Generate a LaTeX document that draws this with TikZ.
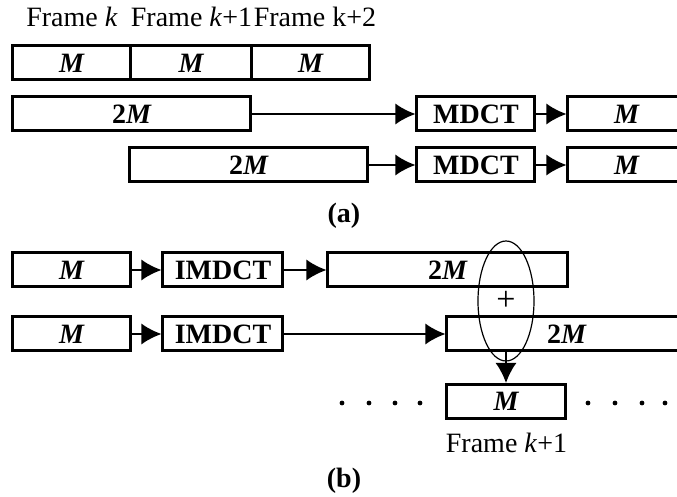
\documentclass[tikz,border=0pt]{standalone}
\usepackage{fontspec}
\setmainfont{Liberation Serif}
\usetikzlibrary{arrows.meta,positioning,shapes.geometric}
\definecolor{Ink}{HTML}{000000}
\newcommand{\labelsize}{\fontsize{14}{16}\selectfont}
\tikzset{blk/.style={rectangle,draw=Ink,line width=1.5pt,minimum height=17pt,inner sep=0pt,text=Ink,font=\labelsize\bfseries},flow/.style={draw=Ink,line width=1pt,-{Latex[length=10pt,width=10.5pt]}},sumring/.style={ellipse,draw=Ink,line width=0.6pt,minimum width=28pt,minimum height=60pt,inner sep=0pt,text=Ink,font=\fontsize{17}{19}\selectfont},tag/.style={text=Ink,inner sep=0pt}}
\begin{document}
\begin{tikzpicture}[x=0.5pt,y=-0.5pt,font=\labelsize]
\clip (0,0) rectangle (677,497);
% (a)
\node[blk,minimum width=59pt] (fk) at (72,63) {\textit{M}};
\node[blk,minimum width=60.5pt] (fk1) at (191.5,63) {\textit{M}};
\node[blk,minimum width=59pt] (fk2) at (311,63) {\textit{M}};
\node[tag] (tk) at (72,17) {Frame \textit{k}};
\node[tag] (tk1) at (191.5,17) {Frame \textit{k}+1};
\node[tag] (tk2) at (315,17) {Frame k+2};
\node[blk,minimum width=119pt] (win1) at (132,114) {2\textit{M}};
\node[blk,minimum width=59pt] (mdct1) at (476,114) {MDCT};
\node[blk,minimum width=59pt] (out1) at (627,114) {\textit{M}};
\node[blk,minimum width=119pt] (win2) at (249,165) {2\textit{M}};
\node[blk,minimum width=59pt] (mdct2) at (476,165) {MDCT};
\node[blk,minimum width=59pt] (out2) at (627,165) {\textit{M}};
\draw[flow] (win1) -- (mdct1);
\draw[flow] (mdct1) -- (out1);
\draw[flow] (win2) -- (mdct2);
\draw[flow] (mdct2) -- (out2);
\node[tag,font=\labelsize\bfseries] (capa) at (344,216) {(a)};
% (b)
\node[blk,minimum width=59pt] (in1) at (72,270) {\textit{M}};
\node[blk,minimum width=60pt] (imdct1) at (223,270) {IMDCT};
\node[blk,minimum width=120pt] (seg1) at (448,270) {2\textit{M}};
\node[blk,minimum width=59pt] (in2) at (72,334) {\textit{M}};
\node[blk,minimum width=60pt] (imdct2) at (223,334) {IMDCT};
\node[blk,minimum width=120pt] (seg2) at (567,334) {2\textit{M}};
\draw[flow] (in1) -- (imdct1);
\draw[flow] (imdct1) -- (seg1);
\draw[flow] (in2) -- (imdct2);
\draw[flow] (imdct2) -- (seg2);
\node[sumring] (sum) at (506,301) {+};
\node[blk,minimum width=59.5pt] (res) at (506.5,401.5) {\textit{M}};
\draw[flow] (seg2.south -| sum) -- (res.north -| sum);
\node[tag] (tres) at (506.5,443) {Frame \textit{k}+1};
\foreach \x in {342,369,395,420,588,615,642,665} \fill[Ink] (\x,403) circle (2.4);
\node[tag,font=\labelsize\bfseries] (capb) at (344,481) {(b)};
\end{tikzpicture}
\end{document}
